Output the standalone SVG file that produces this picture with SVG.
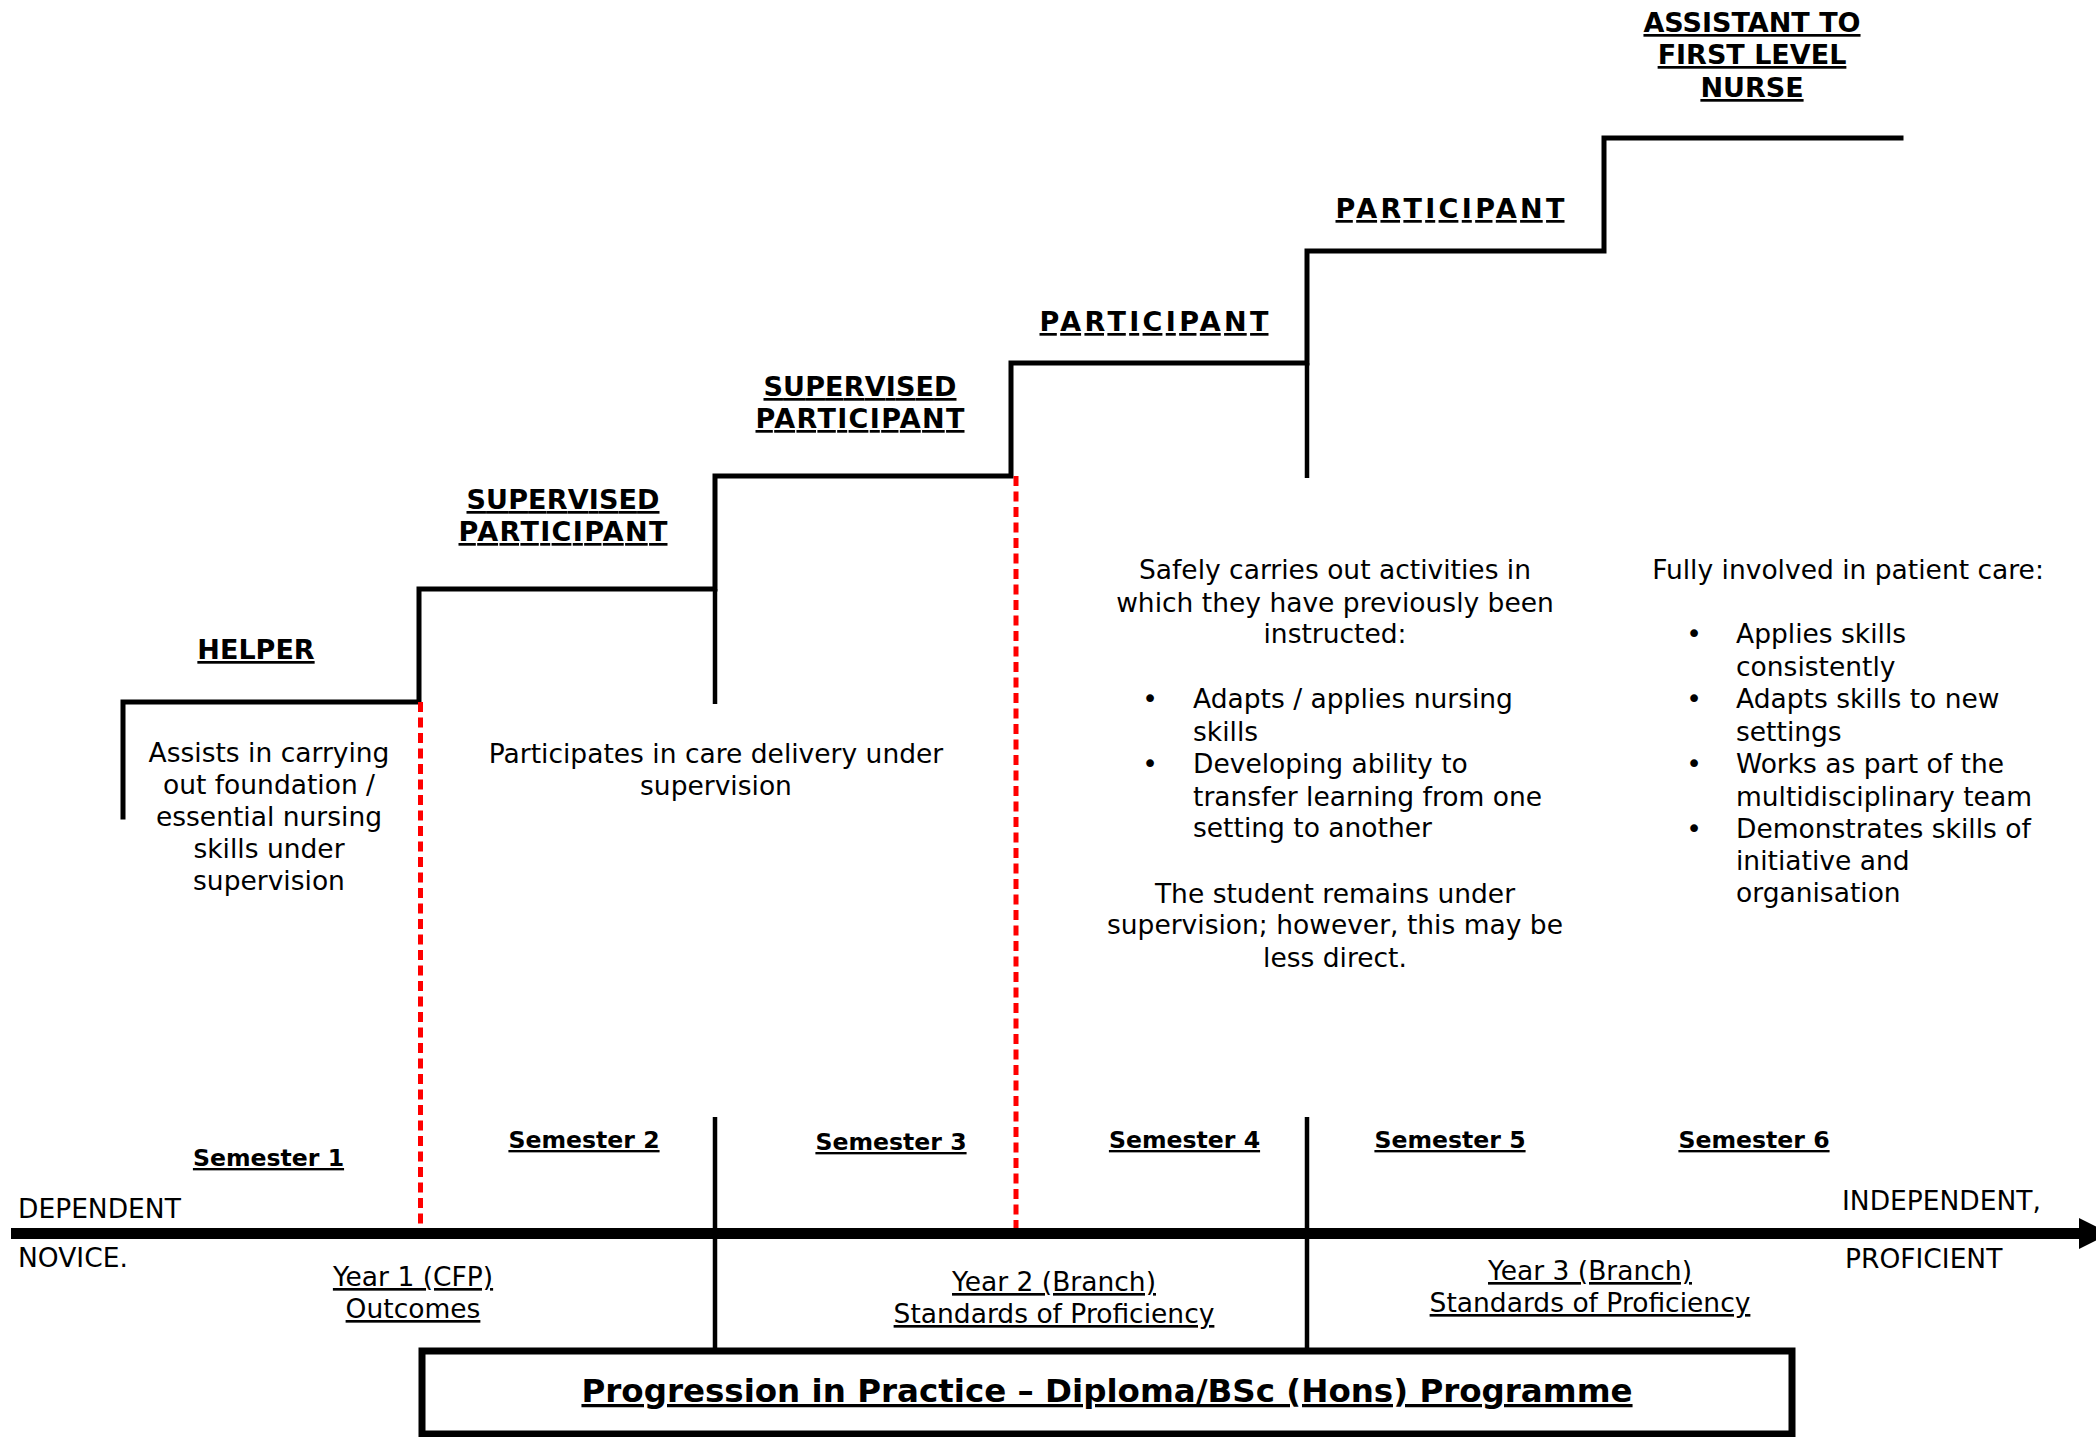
<svg xmlns="http://www.w3.org/2000/svg" width="2096" height="1437" viewBox="0 0 2096 1437">
<style>
text { font-family: "DejaVu Sans", Verdana, sans-serif; fill: #000; }
.lbl { font-size: 27px; font-weight: bold; text-decoration: underline; text-anchor: middle; }
.sem { font-size: 23.6px; font-weight: bold; text-decoration: underline; text-anchor: middle; }
.body { font-size: 26.5px; }
.c { text-anchor: middle; }
.u { text-decoration: underline; }
.stair { fill: none; stroke: #000; stroke-width: 5; stroke-linejoin: miter; stroke-linecap: square; }
.div { stroke: #000; stroke-width: 4.5; fill: none; }
.red { stroke: #ff0000; stroke-width: 5; stroke-dasharray: 10 5.5; fill: none; }
</style>
<rect width="2096" height="1437" fill="#fff"/>

<g id="connectors">
  <path class="stair" d="M123,817 V702 H419 V589 H715 V476 H1011 V363 H1307 V251 H1604 V138 H1901"/>
  <path class="div" d="M715,589 V704 M1307,363 V478"/>
  <path class="red" d="M420.5,702 V1242"/>
  <path class="red" d="M1016,476 V1237"/>
  <path class="div" d="M715,1117 V1348 M1307,1117 V1348"/>
  <line x1="11" y1="1233.5" x2="2082" y2="1233.5" stroke="#000" stroke-width="11"/>
  <polygon points="2079,1218 2110,1233.5 2079,1249" fill="#000"/>
</g>

<g id="helper">
  <text class="lbl" x="256" y="659">HELPER</text>
  <text class="body c" x="269" y="762">Assists in carrying</text>
  <text class="body c" x="269" y="794">out foundation /</text>
  <text class="body c" x="269" y="826">essential nursing</text>
  <text class="body c" x="269" y="858">skills under</text>
  <text class="body c" x="269" y="890">supervision</text>
</g>

<g id="supervised1">
  <text class="lbl" x="563" y="509" textLength="193">SUPERVISED</text>
  <text class="lbl" x="563" y="541" textLength="209">PARTICIPANT</text>
  <text class="body c" x="716" y="763">Participates in care delivery under</text>
  <text class="body c" x="716" y="795">supervision</text>
</g>

<g id="supervised2">
  <text class="lbl" x="860" y="396" textLength="193">SUPERVISED</text>
  <text class="lbl" x="860" y="428" textLength="209">PARTICIPANT</text>
</g>

<g id="participant1">
  <text class="lbl" x="1154" y="331" textLength="229">PARTICIPANT</text>
  <text class="body c" x="1335" y="579">Safely carries out activities in</text>
  <text class="body c" x="1335" y="612">which they have previously been</text>
  <text class="body c" x="1335" y="643">instructed:</text>
  <text class="body c" x="1150" y="708">•</text>
  <text class="body" x="1193" y="708">Adapts / applies nursing</text>
  <text class="body" x="1193" y="741">skills</text>
  <text class="body c" x="1150" y="773">•</text>
  <text class="body" x="1193" y="773">Developing ability to</text>
  <text class="body" x="1193" y="806">transfer learning from one</text>
  <text class="body" x="1193" y="837">setting to another</text>
  <text class="body c" x="1335" y="903">The student remains under</text>
  <text class="body c" x="1335" y="934">supervision; however, this may be</text>
  <text class="body c" x="1335" y="967">less direct.</text>
</g>

<g id="participant2">
  <text class="lbl" x="1450" y="218" textLength="229">PARTICIPANT</text>
  <text class="body c" x="1848" y="579">Fully involved in patient care:</text>
  <text class="body c" x="1694" y="643">•</text>
  <text class="body" x="1736" y="643">Applies skills</text>
  <text class="body" x="1736" y="676">consistently</text>
  <text class="body c" x="1694" y="708">•</text>
  <text class="body" x="1736" y="708">Adapts skills to new</text>
  <text class="body" x="1736" y="741">settings</text>
  <text class="body c" x="1694" y="773">•</text>
  <text class="body" x="1736" y="773">Works as part of the</text>
  <text class="body" x="1736" y="806">multidisciplinary team</text>
  <text class="body c" x="1694" y="838">•</text>
  <text class="body" x="1736" y="838">Demonstrates skills of</text>
  <text class="body" x="1736" y="870">initiative and</text>
  <text class="body" x="1736" y="902">organisation</text>
</g>

<g id="assistant">
  <text class="lbl" x="1752" y="32">ASSISTANT TO</text>
  <text class="lbl" x="1752" y="64">FIRST LEVEL</text>
  <text class="lbl" x="1752" y="97">NURSE</text>
</g>

<g id="semesters">
  <text class="sem" x="268.5" y="1166">Semester 1</text>
  <text class="sem" x="584" y="1148">Semester 2</text>
  <text class="sem" x="891" y="1150">Semester 3</text>
  <text class="sem" x="1184.5" y="1148">Semester 4</text>
  <text class="sem" x="1450" y="1148">Semester 5</text>
  <text class="sem" x="1754" y="1148">Semester 6</text>
</g>

<g id="axis-labels">
  <text class="body" x="18" y="1218">DEPENDENT</text>
  <text class="body" x="18" y="1267">NOVICE.</text>
  <text class="body" x="1842" y="1210">INDEPENDENT,</text>
  <text class="body" x="1845" y="1268">PROFICIENT</text>
</g>

<g id="years">
  <text class="body c u" x="413" y="1286">Year 1 (CFP)</text>
  <text class="body c u" x="413" y="1318">Outcomes</text>
  <text class="body c u" x="1054" y="1291">Year 2 (Branch)</text>
  <text class="body c u" x="1054" y="1323">Standards of Proficiency</text>
  <text class="body c u" x="1590" y="1280">Year 3 (Branch)</text>
  <text class="body c u" x="1590" y="1312">Standards of Proficiency</text>
</g>

<g id="title">
  <rect x="422" y="1351" width="1370" height="83" fill="none" stroke="#000" stroke-width="7"/>
  <text x="1107" y="1402" text-anchor="middle" font-size="32.5" font-weight="bold" text-decoration="underline">Progression in Practice – Diploma/BSc (Hons) Programme</text>
</g>
</svg>
